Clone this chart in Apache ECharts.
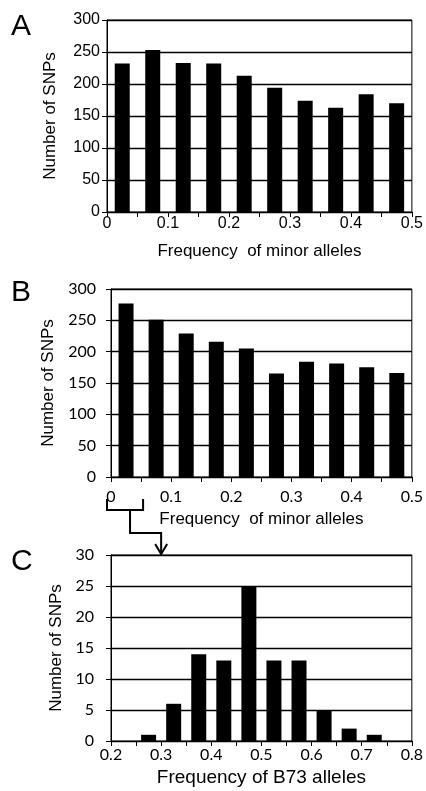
<!DOCTYPE html>
<html>
<head>
<meta charset="utf-8">
<script src="https://cdn.jsdelivr.net/npm/echarts@6/dist/echarts.min.js"></script>
<style>
  html, body { margin: 0; padding: 0; background: #fff; }
  #chart { width: 426px; height: 791px; }
</style>
</head>
<body>
<div id="chart"></div>
<script>
// bin centres (frequency) and SNP counts
const freqBinsAB = [0.025, 0.075, 0.125, 0.175, 0.225, 0.275, 0.325, 0.375, 0.425, 0.475];
const snpsA = [232, 253, 233, 232, 213, 194, 174, 163, 184, 170];
const snpsB = [277, 251, 229, 216, 205, 165, 184, 181, 175, 166];
const freqBinsC = [0.225, 0.275, 0.325, 0.375, 0.425, 0.475, 0.525, 0.575, 0.625, 0.675, 0.725, 0.775];
const snpsC = [0, 1, 6, 14, 13, 25, 13, 13, 5, 2, 1, 0];

const panelLetters = ["A", "B", "C"];
const yTitle = "Number of SNPs";
const xTitleAB = "Frequency  of minor alleles";
const xTitleC = "Frequency of B73 alleles";

const arial = "Liberation Sans, Arial, sans-serif";
const calibri = "Lato, Liberation Sans, sans-serif";

function pairs(xs, ys) {
  return xs.map((x, i) => [x, ys[i]]);
}

function xAxis(gridIndex, min, max, name, gap, font, margin, nameSize) {
  return {
    type: "value", gridIndex, min, max, interval: 0.1,
    name, nameLocation: "middle", nameGap: gap,
    nameTextStyle: { fontFamily: arial, fontSize: nameSize, color: "#000" },
    axisLine: { show: true, onZero: false, lineStyle: { color: "#000", width: 1 } },
    axisTick: { show: true, length: 5, lineStyle: { color: "#000" } },
    minorTick: { show: true, splitNumber: 2, length: 5, lineStyle: { color: "#000" } },
    splitLine: { show: false },
    axisLabel: { fontFamily: font, fontSize: 16, color: "#000", margin },
  };
}

function yAxis(gridIndex, max, interval, gap, font, margin) {
  return {
    type: "value", gridIndex, min: 0, max, interval,
    name: yTitle, nameLocation: "middle", nameGap: gap,
    nameTextStyle: { fontFamily: arial, fontSize: 17, color: "#000" },
    axisLine: { show: true, lineStyle: { color: "#000", width: 1 } },
    axisTick: { show: true, length: 5, lineStyle: { color: "#000" } },
    splitLine: { show: true, lineStyle: { color: "#000", width: 1.3 } },
    axisLabel: { fontFamily: font, fontSize: 16, color: "#000", margin },
  };
}

function bars(idx, data) {
  return {
    type: "bar", xAxisIndex: idx, yAxisIndex: idx, data,
    barWidth: 15, itemStyle: { color: "#000" }, silent: true,
  };
}

const gridStyle = { show: true, borderColor: "#000", borderWidth: 1, backgroundColor: "transparent" };

const letterTops = [26, 292, 561];

const option = {
  animation: false,
  backgroundColor: "#fff",
  grid: [
    Object.assign({ left: 107, top: 20, width: 306, height: 192 }, gridStyle),
    Object.assign({ left: 111, top: 289, width: 308, height: 188 }, gridStyle),
    Object.assign({ left: 111, top: 555, width: 307, height: 186 }, gridStyle),
  ],
  xAxis: [
    xAxis(0, 0, 0.5, xTitleAB, 31, arial, 4, 17),
    xAxis(1, 0, 0.5, xTitleAB, 34, calibri, 12, 17),
    xAxis(2, 0.2, 0.8, xTitleC, 27, calibri, 6, 19),
  ],
  yAxis: [
    yAxis(0, 300, 50, 48, arial, 7),
    yAxis(1, 300, 50, 50, calibri, 15),
    yAxis(2, 30, 5, 42, calibri, 17),
  ],
  series: [
    bars(0, pairs(freqBinsAB, snpsA)),
    bars(1, pairs(freqBinsAB, snpsB)),
    bars(2, pairs(freqBinsC, snpsC)),
  ],
  graphic: panelLetters.map((t, i) => ({
    type: "text", left: 11, top: letterTops[i] - 14,
    style: { text: t, fontFamily: arial, fontSize: 30, fill: "#000" },
  })),
};

const chart = echarts.init(document.getElementById("chart"));
chart.setOption(option);

// bracket under the first bin of B with the arrow down to panel C
const p0 = chart.convertToPixel({ gridIndex: 1 }, [0, 0]);
const p1 = chart.convertToPixel({ gridIndex: 1 }, [0.05, 0]);
const pc = chart.convertToPixel({ gridIndex: 2 }, [0.3, 30]);
const lx = p0[0] - 4, rx = p1[0] + 2, stem = (lx + rx) / 2 + 5;
const bTop = p0[1] + 22, bBot = p0[1] + 33, turn = p0[1] + 56;
const stroke = { stroke: "#000", lineWidth: 2, fill: null };

chart.setOption({
  graphic: option.graphic.concat([
    {
      type: "polyline",
      shape: { points: [[lx, bTop], [lx, bBot], [rx, bBot], [rx, bTop]] },
      style: stroke,
    },
    {
      type: "polyline",
      shape: { points: [[stem, bBot], [stem, turn], [pc[0], turn], [pc[0], pc[1] - 1]] },
      style: stroke,
    },
    {
      type: "polyline",
      shape: { points: [[pc[0] - 6, pc[1] - 11], [pc[0], pc[1] - 1], [pc[0] + 6, pc[1] - 11]] },
      style: stroke,
    },
  ]),
});
</script>
</body>
</html>
